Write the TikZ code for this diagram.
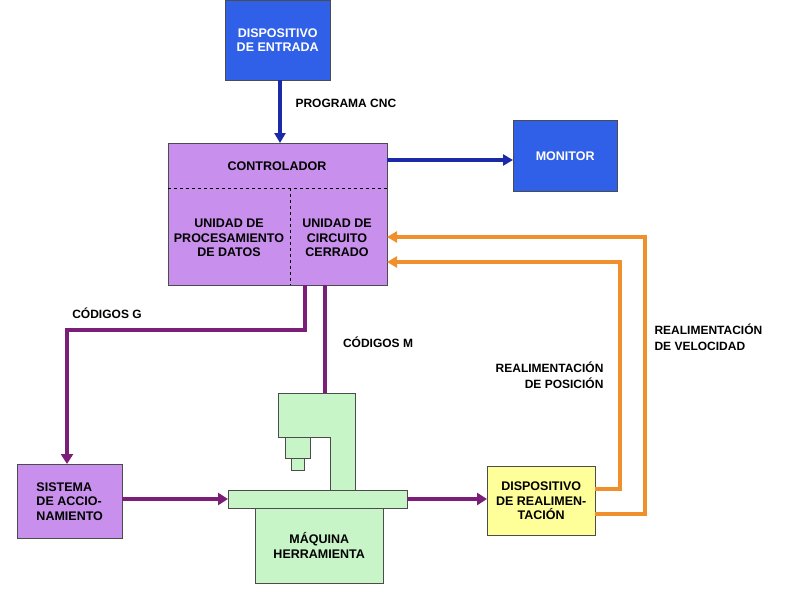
\documentclass[tikz,border=0pt]{standalone}
\usepackage{fontspec}
\setmainfont{Liberation Sans}
\usetikzlibrary{arrows.meta}
\definecolor{bfill}{HTML}{3060E8}
\definecolor{vfill}{HTML}{C890EC}
\definecolor{pline}{HTML}{7A1E78}
\definecolor{oline}{HTML}{F0902C}
\definecolor{yfill}{HTML}{FFFF99}
\definecolor{gfill}{HTML}{C8F5C8}
\definecolor{bline}{HTML}{1A2AA8}
\begin{document}
\begin{tikzpicture}[x=1pt,y=-1pt,
  every node/.style={font=\fontsize{12.5}{14.5}\selectfont\bfseries,align=center},
  blue arrow/.style={draw=bline,line width=3.2pt,-{Triangle[length=10pt,width=11pt]}},
  purple arrow/.style={draw=pline,line width=3.8pt,-{Triangle[length=10pt,width=12pt]}},
  orange arrow/.style={draw=oline,line width=3.2pt,-{Triangle[length=10pt,width=11pt]}},
  lbl/.style={font=\fontsize{12}{15.5}\selectfont\bfseries}]
\useasboundingbox (0,0) rectangle (785,597);
\fill[white] (0,0) rectangle (785,597);
% input
\node[draw=black!70,fill=bfill,text=white,minimum width=105pt,minimum height=80pt,anchor=north west] (in) at (225,0) {DISPOSITIVO\\DE ENTRADA};
% controller
\node[draw=black!70,fill=vfill,minimum width=219pt,minimum height=142pt,anchor=north west] (ctl) at (168,143) {};
\draw[dashed,line width=1pt] (168,188) -- (387,188);
\draw[dashed,line width=1pt] (290,188) -- (290,285);
\node (ctltxt) at (277,166) {CONTROLADOR};
\node (upd) at (229,238) {UNIDAD DE\\PROCESAMIENTO\\DE DATOS};
\node (ucc) at (337,238) {UNIDAD DE\\CIRCUITO\\CERRADO};
\coordinate (inout) at (280,80);
\coordinate (ctlin) at (280,143);
\draw[blue arrow] (inout) -- (ctlin);
\node[lbl,anchor=west] (pcnc) at (292,103) {PROGRAMA CNC};
% monitor
\node[draw=black!70,fill=bfill,text=white,minimum width=104pt,minimum height=71pt,anchor=north west] (mon) at (513,120) {MONITOR};
\draw[blue arrow] (387,160) -- (mon.west |- 0,160);
% sistema
\node[draw=black!70,fill=vfill,minimum width=105pt,minimum height=74pt,anchor=north west,align=left] (sis) at (17,464) {SISTEMA\\DE ACCIO-\\NAMIENTO};
% machine
\draw[fill=gfill,draw=black!70,line width=0.8pt] (278,393) -- (355,393) -- (355,490) -- (330,490) -- (330,437) -- (278,437) -- cycle;
\draw[fill=gfill,draw=black!70,line width=0.8pt] (285,437) rectangle (310,458);
\draw[fill=gfill,draw=black!70,line width=0.8pt] (291,458) rectangle (304,470);
\node[draw=black!70,fill=gfill,minimum width=128pt,minimum height=75pt,anchor=north west] (base) at (255,508) {M\'AQUINA\\HERRAMIENTA};
\node[draw=black!70,fill=gfill,minimum width=179pt,minimum height=18pt,anchor=north west] (table) at (228,490) {};
\coordinate (coltop) at (325,393);
% feedback
\node[draw=black!70,fill=yfill,minimum width=108pt,minimum height=69pt,anchor=north west] (fb) at (487,466) {DISPOSITIVO\\DE REALIMEN-\\TACI\'ON};
% purple connectors
\draw[purple arrow] (305,285) -- (305,330) -- (67,330) -- (sis.north -| 67,0);
\draw[draw=pline,line width=3.8pt] (325,285) -- (coltop);
\node[lbl] (cg) at (107,313) {C\'ODIGOS G};
\node[lbl] (cm) at (378,342) {C\'ODIGOS M};
\draw[purple arrow] (sis.east |- 0,499) -- (table.west |- 0,499);
\draw[purple arrow] (table.east |- 0,499) -- (fb.west |- 0,499);
% orange
\draw[orange arrow] (595,489) -- (620,489) -- (620,262) -- (387,262);
\draw[orange arrow] (595,514) -- (645,514) -- (645,237) -- (387,237);
\node[lbl,align=right,anchor=east] (rp) at (607,375) {REALIMENTACI\'ON\\DE POSICI\'ON};
\node[lbl,align=left,anchor=west] (rv) at (651,337) {REALIMENTACI\'ON\\DE VELOCIDAD};
\end{tikzpicture}
\end{document}
